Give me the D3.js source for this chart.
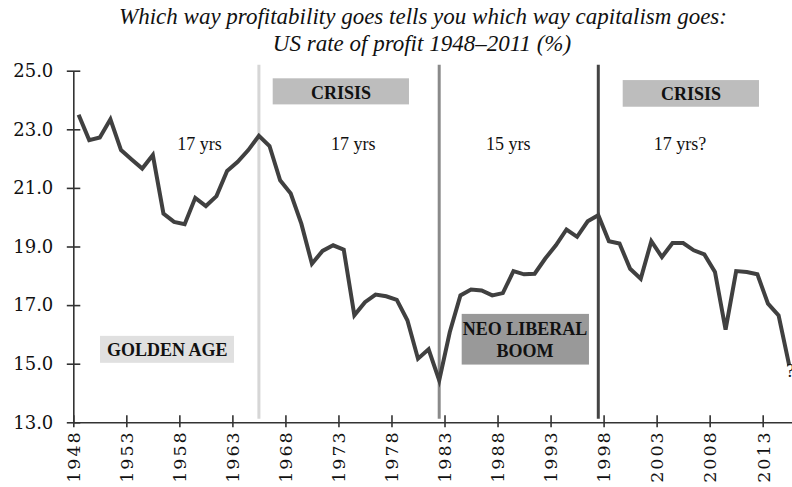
<!DOCTYPE html>
<html>
<head>
<meta charset="utf-8">
<script src="https://cdn.jsdelivr.net/npm/d3@7"></script>
<style>
  body { margin: 0; background: #fff; }
  svg { display: block; }
  .title { font-family: "Liberation Serif", serif; font-style: italic; font-size: 23px; fill: #111; }
  .axis path, .axis line { stroke: #333; stroke-width: 1.6; }
  .yaxis text { font-family: "DejaVu Serif", serif; font-size: 18px; fill: #111; }
  .xaxis text { font-family: "DejaVu Serif", serif; font-size: 17.5px; fill: #111; letter-spacing: 2px; }
  .note { font-family: "Liberation Serif", serif; font-size: 18px; fill: #111; }
  .tag { font-family: "Liberation Serif", serif; font-weight: bold; font-size: 18px; fill: #111; }
</style>
</head>
<body>
<div id="chart"></div>
<script>
var svgWidth = 792;
var svgHeight = 487;

// data
var years = d3.range(1948, 2016);
var profitRate = [
  23.50, 22.63, 22.72, 23.34, 22.29, 21.97, 21.66, 22.12, 20.12, 19.84,
  19.76, 20.66, 20.38, 20.72, 21.58, 21.89, 22.29, 22.78, 22.43, 21.26,
  20.81, 19.78, 18.41, 18.85, 19.04, 18.89, 16.65, 17.10, 17.36, 17.30,
  17.18, 16.48, 15.17, 15.49, 14.43, 16.08, 17.33, 17.53, 17.50, 17.33,
  17.41, 18.16, 18.05, 18.07, 18.59, 19.04, 19.58, 19.33, 19.86, 20.07,
  19.18, 19.10, 18.24, 17.90, 19.18, 18.64, 19.12, 19.12, 18.87, 18.73,
  18.13, 16.16, 18.16, 18.13, 18.05, 17.05, 16.65, 14.94
];
var tickYears = d3.range(1948, 2016, 5);
var yTicks = [13, 15, 17, 19, 21, 23, 25];

// turning points (vertical lines)
var turnYears = [1965, 1982, 1997];
var turnColors = ["#d6d6d6", "#8a8a8a", "#444"];

// period labels
var periodText = ["17 yrs", "17 yrs", "15 yrs", "17 yrs?"];
var periodYear = [1959.9, 1974.4, 1989.0, 2005.2];

var data = years.map((yr, i) => ({ year: yr, value: profitRate[i] }));

var margin = { top: 70.7, left: 73.3, bottom: 487 - 422.3 };

var svg = d3.select("#chart")
  .append("svg")
  .attr("width", svgWidth)
  .attr("height", svgHeight);

// x: years, each year gets one slot, points sit mid-slot
var x = d3.scaleLinear()
  .domain([1948, 2016])
  .range([margin.left, margin.left + 68 * 10.606]);

var y = d3.scaleLinear()
  .domain([13, 25])
  .range([422.3, margin.top]);

var mid = yr => x(yr + 0.5);

// title
svg.append("text").attr("class", "title")
  .attr("x", 423).attr("y", 24).attr("text-anchor", "middle")
  .text("Which way profitability goes tells you which way capitalism goes:");
svg.append("text").attr("class", "title")
  .attr("x", 422).attr("y", 51).attr("text-anchor", "middle")
  .text("US rate of profit 1948\u20132011 (%)");

// label boxes
function tagBox(x0, x1, v0, v1, fill) {
  svg.append("rect")
    .attr("x", x(x0)).attr("width", x(x1) - x(x0))
    .attr("y", y(v0)).attr("height", y(v1) - y(v0))
    .attr("fill", fill);
}
tagBox(1966.8, 1979.65, 24.74, 23.85, "#bdbdbd");
tagBox(1999.8, 2012.65, 24.68, 23.77, "#bdbdbd");
tagBox(1950.52, 1963.15, 15.95, 15.03, "#e0e0e0");
tagBox(1984.62, 1996.62, 16.70, 14.97, "#999999");

svg.append("text").attr("class", "tag").attr("text-anchor", "middle")
  .attr("x", x(1973.24)).attr("y", y(24.02)).text("CRISIS");
svg.append("text").attr("class", "tag").attr("text-anchor", "middle")
  .attr("x", x(2006.24)).attr("y", y(24.0)).text("CRISIS");
svg.append("text").attr("class", "tag").attr("text-anchor", "middle")
  .attr("x", x(1956.85)).attr("y", y(15.26)).text("GOLDEN AGE");
svg.append("text").attr("class", "tag").attr("text-anchor", "middle")
  .attr("x", x(1990.6)).attr("y", y(15.98)).text("NEO LIBERAL");
svg.append("text").attr("class", "tag").attr("text-anchor", "middle")
  .attr("x", x(1990.6)).attr("y", y(15.24)).text("BOOM");

// period lengths
svg.selectAll(".note")
  .data(periodText)
  .enter()
  .append("text")
  .attr("class", "note")
  .attr("text-anchor", "middle")
  .attr("x", (d, i) => x(periodYear[i]))
  .attr("y", y(22.3))
  .text(d => d);

// vertical turning point lines
svg.selectAll(".turn")
  .data(turnYears)
  .enter()
  .append("line")
  .attr("class", "turn")
  .attr("x1", d => mid(d)).attr("x2", d => mid(d))
  .attr("y1", y(25.2)).attr("y2", y(13.12))
  .attr("stroke", (d, i) => turnColors[i])
  .attr("stroke-width", 3);

// axes
var xAxis = svg.append("g")
  .attr("class", "axis xaxis")
  .attr("transform", `translate(0, ${y(13)})`)
  .call(d3.axisBottom(x).tickValues(tickYears).tickFormat(d3.format("d")).tickSizeOuter(0));
xAxis.selectAll(".tick line").attr("y1", -7).attr("y2", 5);
xAxis.selectAll(".tick text")
  .attr("transform", "rotate(-90)")
  .attr("text-anchor", "end")
  .attr("x", -8).attr("y", 0).attr("dy", "0.36em");

var yAxis = svg.append("g")
  .attr("class", "axis yaxis")
  .attr("transform", `translate(${margin.left}, 0)`)
  .call(d3.axisLeft(y).tickValues(yTicks).tickFormat(d3.format(".1f")).tickSizeOuter(0));
yAxis.selectAll(".tick line").attr("x1", -6.5).attr("x2", 7);
yAxis.selectAll(".tick text").attr("x", -20);

// the rate of profit line
svg.append("path")
  .datum(data)
  .attr("fill", "none")
  .attr("stroke", "#404040")
  .attr("stroke-width", 4)
  .attr("stroke-linejoin", "miter")
  .attr("d", d3.line().x(d => mid(d.year)).y(d => y(d.value)));

// end marker
svg.append("text").attr("class", "note")
  .attr("x", mid(2015) - 3).attr("y", y(14.55))
  .attr("font-size", 14)
  .text("?");
</script>
</body>
</html>
